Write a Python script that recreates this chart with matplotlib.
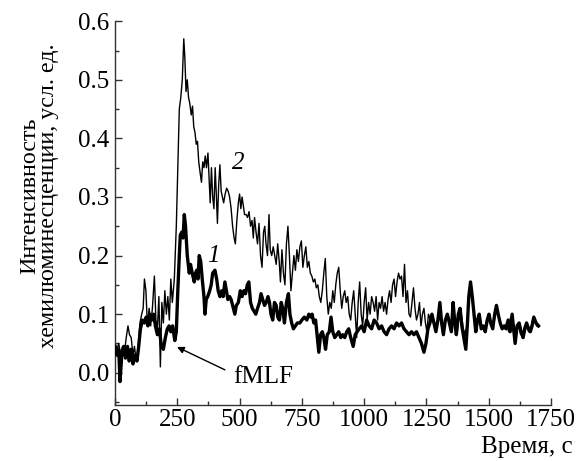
import matplotlib
matplotlib.use("Agg")
import matplotlib.pyplot as plt
from matplotlib.ticker import MultipleLocator, FormatStrFormatter

plt.rcParams['font.family'] = ['Liberation Serif', 'DejaVu Serif']
plt.rcParams['mathtext.fontset'] = 'stix'

# Curve 1 (thick)
t1 = [0, 8, 15, 20, 27, 35, 42, 50, 57, 64, 72, 80, 88, 95, 102, 110, 118, 125, 132, 140,
      148, 155, 162, 170, 178, 186, 194, 202, 210, 217, 224, 231, 240, 246, 252, 258, 262, 268, 273, 278,
      283, 290, 298, 303, 310, 318, 323, 328, 333, 338, 344, 350, 357, 361, 366, 372, 380, 386, 392, 401,
      408, 414, 421, 428, 434, 441, 447, 453, 460, 466, 472, 481, 487, 495, 503, 510, 517, 524, 531, 537,
      544, 551, 558, 565, 572, 580, 586, 593, 600, 607, 614, 620, 626, 633, 640, 647, 653, 660, 667, 673,
      680, 688, 696, 702, 709, 716, 724, 732, 742, 750, 760, 770, 778, 786, 791, 798, 805, 812, 818, 825,
      832, 838, 845, 852, 860, 867, 874, 882, 890, 898, 906, 914, 922, 930, 938, 946, 956, 964, 972, 980,
      990, 1000, 1010, 1020, 1030, 1040, 1050, 1060, 1070, 1080, 1090, 1100, 1110, 1120, 1130, 1140, 1150, 1160, 1170, 1180,
      1190, 1200, 1210, 1220, 1230, 1240, 1248, 1256, 1264, 1272, 1280, 1288, 1296, 1304, 1311, 1318, 1326, 1334, 1342, 1350,
      1357, 1364, 1370, 1378, 1385, 1392, 1400, 1408, 1414, 1420, 1427, 1434, 1441, 1448, 1455, 1462, 1470, 1478, 1486, 1494,
      1501, 1508, 1516, 1524, 1531, 1538, 1546, 1554, 1562, 1570, 1578, 1586, 1594, 1600, 1606, 1614, 1622, 1630, 1638, 1645,
      1652, 1660, 1667, 1674, 1681, 1690, 1700]
v1 = [0.045, 0.03, 0.04, -0.015, 0.03, 0.045, 0.025, 0.045, 0.02, 0.04, 0.015, 0.03, 0.02, 0.045, 0.075, 0.09, 0.085, 0.095, 0.08, 0.1,
      0.09, 0.1, 0.08, 0.065, 0.075, 0.045, 0.04, 0.06, 0.075, 0.08, 0.07, 0.08, 0.055, 0.07, 0.14, 0.2, 0.235, 0.24, 0.23, 0.27,
      0.25, 0.2, 0.17, 0.185, 0.17, 0.155, 0.17, 0.175, 0.16, 0.2, 0.19, 0.16, 0.13, 0.1, 0.125, 0.13, 0.14, 0.15, 0.17, 0.175,
      0.16, 0.14, 0.13, 0.14, 0.13, 0.155, 0.14, 0.125, 0.13, 0.125, 0.115, 0.1, 0.115, 0.12, 0.14, 0.13, 0.14, 0.135, 0.15, 0.155,
      0.12, 0.11, 0.105, 0.1, 0.11, 0.12, 0.135, 0.125, 0.115, 0.12, 0.13, 0.12, 0.1, 0.09, 0.12, 0.115, 0.095, 0.09, 0.12, 0.11,
      0.085, 0.12, 0.135, 0.1, 0.085, 0.075, 0.08, 0.085, 0.085, 0.09, 0.095, 0.09, 0.1, 0.095, 0.1, 0.085, 0.09, 0.06, 0.035, 0.065,
      0.07, 0.06, 0.04, 0.065, 0.07, 0.095, 0.07, 0.06, 0.065, 0.07, 0.06, 0.065, 0.06, 0.07, 0.075, 0.06, 0.045, 0.065, 0.07, 0.075,
      0.08, 0.07, 0.09, 0.08, 0.075, 0.09, 0.085, 0.075, 0.08, 0.07, 0.065, 0.075, 0.08, 0.075, 0.085, 0.08, 0.085, 0.075, 0.07, 0.065,
      0.07, 0.065, 0.07, 0.06, 0.05, 0.035, 0.05, 0.075, 0.085, 0.1, 0.085, 0.07, 0.09, 0.12, 0.085, 0.065, 0.09, 0.1, 0.085, 0.07,
      0.12, 0.085, 0.065, 0.1, 0.11, 0.08, 0.06, 0.04, 0.08, 0.13, 0.155, 0.13, 0.1, 0.07, 0.09, 0.1, 0.075, 0.08, 0.07, 0.09,
      0.1, 0.085, 0.075, 0.1, 0.115, 0.1, 0.085, 0.075, 0.08, 0.075, 0.09, 0.07, 0.1, 0.075, 0.05, 0.08, 0.085, 0.07, 0.06, 0.075,
      0.085, 0.075, 0.07, 0.08, 0.095, 0.085, 0.08]

# Curve 2 (thin)
t2 = [0, 8, 15, 22, 30, 38, 45, 52, 58, 65, 72, 78, 85, 92, 100, 107, 113, 118, 124, 130,
      137, 143, 150, 158, 164, 170, 176, 182, 188, 194, 200, 206, 212, 218, 224, 230, 238, 246, 252, 258,
      264, 270, 276, 280, 285, 290, 295, 300, 306, 311, 316, 321, 326, 331, 336, 342, 347, 352, 357, 362,
      367, 373, 378, 382, 387, 392, 397, 402, 407, 411, 416, 421, 426, 431, 436, 442, 448, 454, 460, 466,
      472, 478, 483, 489, 495, 500, 505, 510, 515, 520, 526, 532, 538, 544, 550, 555, 560, 566, 572, 578,
      584, 590, 596, 601, 606, 612, 618, 623, 629, 635, 641, 647, 653, 659, 664, 670, 676, 682, 688, 694,
      700, 706, 712, 718, 724, 730, 736, 742, 748, 754, 760, 766, 772, 778, 784, 790, 796, 802, 808, 814,
      820, 826, 832, 838, 844, 850, 856, 862, 868, 874, 880, 886, 892, 898, 904, 910, 916, 922, 928, 934,
      940, 946, 952, 958, 964, 970, 976, 982, 988, 994, 1000, 1006, 1012, 1018, 1024, 1030, 1036, 1042, 1048, 1054,
      1060, 1066, 1072, 1078, 1084, 1090, 1096, 1102, 1108, 1114, 1120, 1126, 1132, 1138, 1144, 1150, 1156, 1162, 1168, 1174,
      1180, 1186, 1192, 1198, 1204, 1210, 1216, 1222, 1228, 1234, 1240, 1246, 1252, 1258, 1266, 1274, 1282, 1290, 1298, 1305,
      1312, 1320, 1328, 1336, 1344, 1352, 1358, 1366, 1374, 1382, 1390, 1398, 1406, 1414, 1421, 1428, 1436, 1444, 1452, 1460,
      1468, 1476, 1484, 1492, 1500, 1508, 1516, 1524, 1532, 1540, 1548, 1556, 1564, 1572, 1580, 1588, 1596, 1604, 1612, 1620,
      1628, 1636, 1644, 1652, 1660, 1668, 1676, 1684, 1692, 1700]
v2 = [0.05, 0.04, 0.05, 0.03, 0.045, 0.035, 0.06, 0.08, 0.065, 0.06, 0.03, 0.045, 0.02, 0.04, 0.085, 0.1, 0.11, 0.16, 0.14, 0.08,
      0.11, 0.08, 0.11, 0.165, 0.09, 0.075, 0.13, 0.01, 0.12, 0.085, 0.14, 0.1, 0.13, 0.09, 0.16, 0.12, 0.16, 0.25, 0.35, 0.45,
      0.47, 0.5, 0.57, 0.54, 0.48, 0.5, 0.47, 0.46, 0.44, 0.455, 0.42, 0.41, 0.39, 0.395, 0.36, 0.34, 0.325, 0.36, 0.35, 0.37,
      0.35, 0.375, 0.33, 0.29, 0.35, 0.3, 0.28, 0.35, 0.3, 0.255, 0.32, 0.355, 0.31, 0.3, 0.29, 0.305, 0.315, 0.31, 0.3, 0.28,
      0.25, 0.23, 0.22, 0.26, 0.29, 0.305, 0.28, 0.3, 0.285, 0.27, 0.27, 0.265, 0.275, 0.25, 0.26, 0.23, 0.265, 0.24, 0.22, 0.255,
      0.2, 0.18, 0.24, 0.25, 0.22, 0.2, 0.27, 0.21, 0.2, 0.215, 0.2, 0.185, 0.22, 0.19, 0.155, 0.21, 0.17, 0.15, 0.22, 0.25,
      0.2, 0.14, 0.17, 0.2, 0.175, 0.21, 0.19, 0.215, 0.225, 0.18, 0.2, 0.215, 0.18, 0.19, 0.17, 0.165, 0.155, 0.16, 0.145, 0.15,
      0.13, 0.12, 0.14, 0.17, 0.195, 0.13, 0.1, 0.12, 0.11, 0.14, 0.12, 0.15, 0.17, 0.18, 0.14, 0.11, 0.13, 0.14, 0.12, 0.13,
      0.1, 0.09, 0.12, 0.14, 0.1, 0.06, 0.12, 0.155, 0.1, 0.08, 0.12, 0.145, 0.09, 0.12, 0.1, 0.13, 0.12, 0.105, 0.13, 0.09,
      0.12, 0.11, 0.13, 0.105, 0.12, 0.1, 0.125, 0.14, 0.12, 0.15, 0.16, 0.13, 0.155, 0.17, 0.16, 0.165, 0.13, 0.185, 0.12, 0.14,
      0.1, 0.095, 0.12, 0.145, 0.11, 0.09, 0.1, 0.12, 0.08, 0.1, 0.11, 0.085, 0.07, 0.1, 0.09, 0.1, 0.08, 0.075, 0.095, 0.115,
      0.08, 0.07, 0.095, 0.1, 0.08, 0.075, 0.115, 0.08, 0.07, 0.105, 0.1, 0.075, 0.065, 0.085, 0.125, 0.15, 0.12, 0.09, 0.08, 0.095,
      0.085, 0.075, 0.075, 0.09, 0.1, 0.08, 0.08, 0.1, 0.11, 0.095, 0.08, 0.08, 0.075, 0.085, 0.07, 0.095, 0.08, 0.055, 0.08, 0.08,
      0.065, 0.065, 0.08, 0.08, 0.07, 0.075, 0.09, 0.09, 0.08, 0.078]

x_ticks = [0, 250, 500, 750, 1000, 1250, 1500, 1750]
y_ticks = [0.0, 0.1, 0.2, 0.3, 0.4, 0.5, 0.6]

FS = 18

fig = plt.figure(figsize=(5.76, 4.61), dpi=100)
ax = fig.add_axes([0.1997, 0.1215, 0.7569, 0.8325])

ax.plot(t2, v2, color='black', lw=1.0, zorder=2)
ax.plot(t1, v1, color='black', lw=2.4, zorder=3)

ax.set_xlim(0, 1750)
ax.set_ylim(-0.055, 0.6)
ax.set_xticks(x_ticks)
ax.set_yticks(y_ticks)
ax.xaxis.set_minor_locator(MultipleLocator(125))
ax.yaxis.set_minor_locator(MultipleLocator(0.05))
ax.yaxis.set_major_formatter(FormatStrFormatter('%.1f'))

for s in ['top', 'right']:
    ax.spines[s].set_visible(False)
for s in ['left', 'bottom']:
    ax.spines[s].set_linewidth(1.0)
    ax.spines[s].set_color('#333333')

ax.tick_params(which='major', direction='in', length=5, width=1, labelsize=FS, pad=4, color='#333333')
ax.tick_params(axis='x', which='major', pad=3)
ax.tick_params(which='minor', direction='in', length=3, width=1, color='#333333')

ax.set_ylabel('Интенсивность\nхемилюминесценции, усл. ед.', fontsize=17.3, linespacing=0.9)
ax.yaxis.set_label_coords(-0.128, 0.545)
ax.set_xlabel('Время, с', fontsize=FS, ha='right')
ax.xaxis.set_label_coords(1.05, -0.082)

ax.text(494, 0.358, '2', fontsize=FS, style='italic', ha='center', va='center')
ax.text(393, 0.20, '1', fontsize=FS, style='italic', ha='center', va='center')
ax.text(473, -0.007, 'fMLF', fontsize=FS, ha='left', va='center')
ax.annotate('', xy=(249, 0.044), xytext=(441, 0.005),
            arrowprops=dict(arrowstyle='-|>', lw=1, color='black', mutation_scale=10,
                            shrinkA=0, shrinkB=0))

fig.savefig('out.png', dpi=100)
